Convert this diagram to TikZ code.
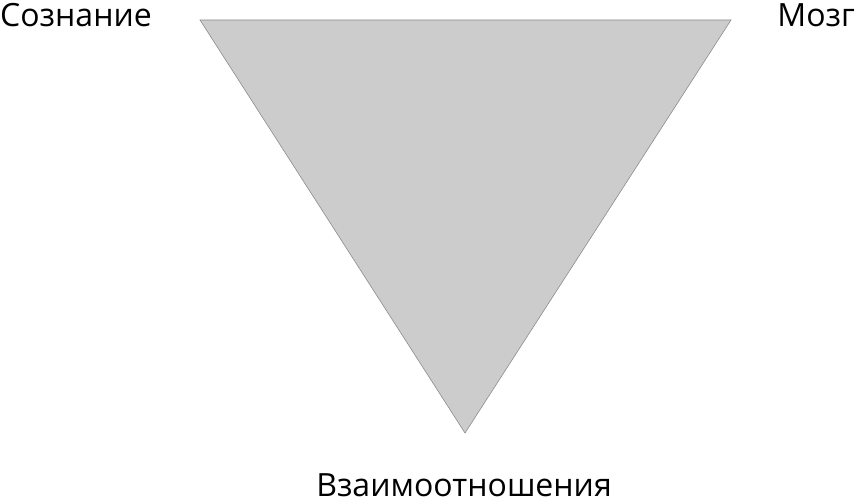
\documentclass[tikz,border=0pt]{standalone}
\usepackage{fontspec}
\setmainfont{Open Sans}
\tikzset{
  lbl/.style={inner sep=0pt, font=\fontsize{32}{36}\selectfont},
  tri/.style={fill=black!20, draw=black!45, line width=0.6pt}
}
\begin{document}
\begin{tikzpicture}[x=1pt,y=1pt]
\useasboundingbox (0,0) rectangle (859,503);
\coordinate (A) at (200,483);
\coordinate (B) at (731,483);
\coordinate (C) at (465,70);
\draw[tri] (A) -- (B) -- (C) -- cycle;
\node[lbl, anchor=base west] (s) at (0,476) {Сознание};
\node[lbl, anchor=base east] (m) at (855,476) {Мозг};
\node[lbl, anchor=base, text depth=0pt] (v) at (464,6) {Взаимоотношения};
\end{tikzpicture}
\end{document}
